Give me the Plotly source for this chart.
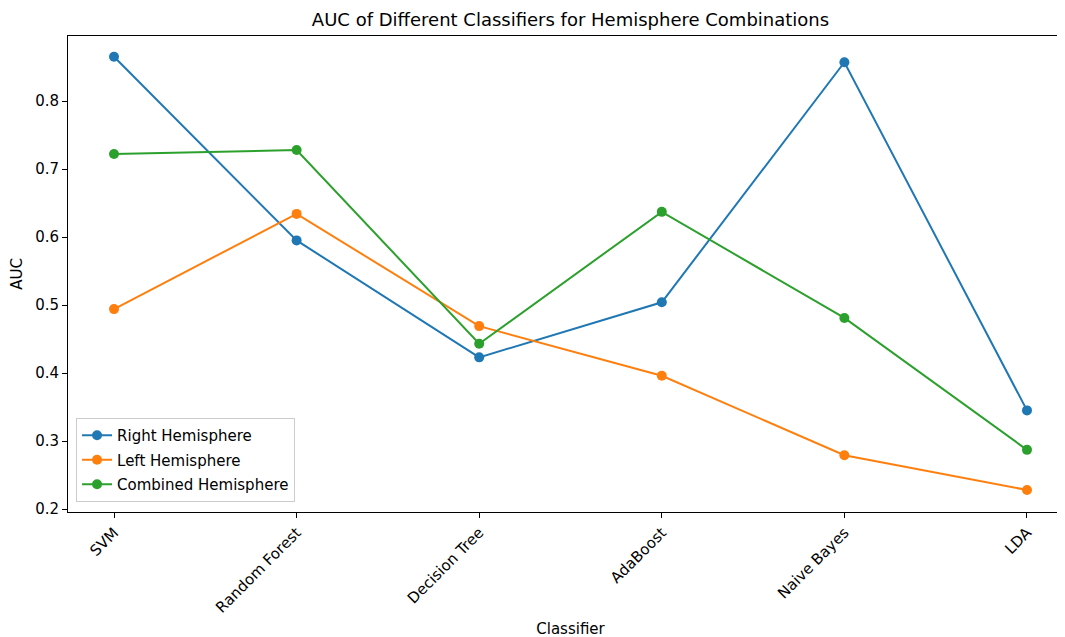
import plotly.graph_objects as go

classifiers = ["SVM", "Random Forest", "Decision Tree", "AdaBoost", "Naive Bayes", "LDA"]
right_auc = [0.865, 0.595, 0.423, 0.504, 0.857, 0.345]
left_auc = [0.494, 0.634, 0.469, 0.396, 0.279, 0.228]
combined_auc = [0.722, 0.728, 0.443, 0.637, 0.481, 0.287]
y_ticks = [0.2, 0.3, 0.4, 0.5, 0.6, 0.7, 0.8]

series = [
    ("Right Hemisphere", right_auc, "#1f77b4"),
    ("Left Hemisphere", left_auc, "#ff7f0e"),
    ("Combined Hemisphere", combined_auc, "#2ca02c"),
]

fig = go.Figure()
for name, vals, color in series:
    fig.add_trace(go.Scatter(
        x=list(range(len(classifiers))), y=vals, name=name,
        mode="lines+markers", legendgroup=name,
        line=dict(color=color, width=2),
        marker=dict(color=color, size=10),
    ))

font = "DejaVu Sans, Verdana, sans-serif"
fig.update_layout(
    width=1065, height=637,
    margin=dict(l=60, r=0, t=28, b=133),
    paper_bgcolor="white", plot_bgcolor="white",
    font=dict(family=font, size=15, color="black"),
    title=dict(text="AUC of Different Classifiers for Hemisphere Combinations",
               x=0.5, xref="paper", xanchor="center",
               y=1 - 12 / 637, yref="container", yanchor="middle",
               font=dict(size=18)),
    showlegend=True,
    legend=dict(x=0.008, y=0.021, xanchor="left", yanchor="bottom",
                bgcolor="rgba(255,255,255,0.8)", bordercolor="#cccccc", borderwidth=1,
                font=dict(size=15), tracegroupgap=2),
    xaxis=dict(
        tickmode="array", tickvals=list(range(len(classifiers))), ticktext=classifiers,
        range=[-0.252, 5.252], tickangle=-45, automargin=False,
        showline=True, linecolor="black", linewidth=1, mirror=True,
        ticks="outside", ticklen=5, tickcolor="black", showgrid=False, zeroline=False,
        title=dict(text="Classifier", font=dict(size=15), standoff=8),
    ),
    yaxis=dict(
        range=[0.1956, 0.8956], tickvals=y_ticks, tickformat=".1f", automargin=False,
        showline=True, linecolor="black", linewidth=1,
        ticks="outside", ticklen=5, tickcolor="black", showgrid=False, zeroline=False,
        title=dict(text="AUC", font=dict(size=15), standoff=10),
    ),
)

fig.write_html("out.html")
